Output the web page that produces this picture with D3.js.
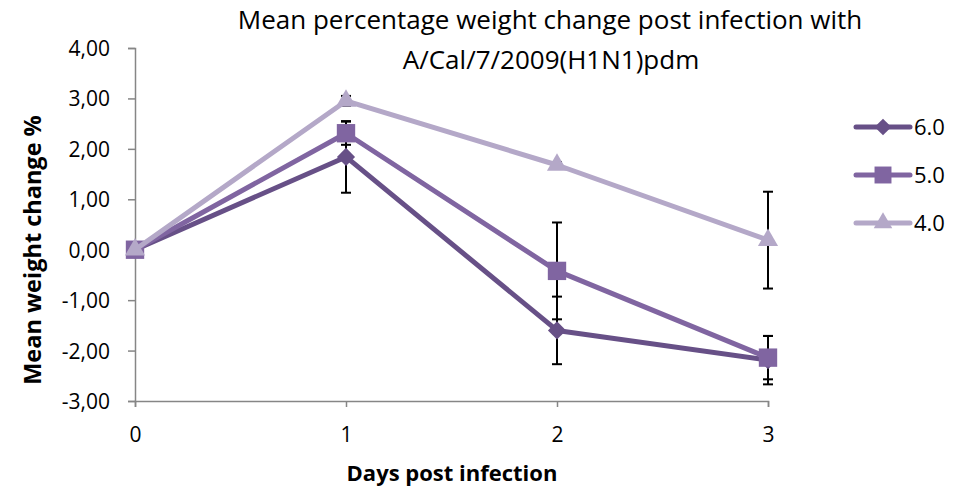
<!DOCTYPE html>
<html lang="en">
<head>
    <meta charset="UTF-8">
    <title>Mean percentage weight change</title>
    <style>
        body { margin: 0; background: #fff; }
        text { font-family: "Open Sans", "Liberation Sans", sans-serif; fill: #000; }
    </style>
    <script src="https://d3js.org/d3.v7.min.js"></script>
</head>
<body>
<svg class="chart" width="961" height="491"></svg>
<script>
    const days = [0, 1, 2, 3],
        seriesNames = ['6.0', '5.0', '4.0'],
        weight60 = [0, 1.84, -1.60, -2.19],
        weight50 = [0, 2.31, -0.42, -2.14],
        weight40 = [0, 2.95, 1.68, 0.19],
        err60 = [0, 0.71, 0.67, 0.48],
        err50 = [0, 0.23, 0.96, 0.43],
        err40 = [0, 0.10, 0.06, 0.96],
        yTicks = [4, 3, 2, 1, 0, -1, -2, -3];

    const colors = ['#675087', '#8065a1', '#b4a8c8'],
        shapes = [d3.symbolDiamond2, d3.symbolSquare2, d3.symbolTriangle2],
        sizes = [210, 430, 290];

    const series = seriesNames.map((name, i) => ({
        name: name,
        values: [weight60, weight50, weight40][i],
        errors: [err60, err50, err40][i],
        color: colors[i],
        shape: shapes[i]
    }));

    const margin = {left: 135, top: 48},
        width = 768 - 135,
        height = 401 - 48;

    const svg = d3.select('.chart');

    // 比例尺
    let x = d3.scaleLinear().domain([0, 3]).range([0, width]),
        y = d3.scaleLinear().domain([-3, 4]).range([height, 0]);

    let g = svg.append('g').attr('transform', 'translate(' + margin.left + ',' + margin.top + ')');

    // y轴
    let yAxis = g.append('g')
        .call(d3.axisLeft(y).tickValues(yTicks).tickSize(7).tickPadding(18)
            .tickFormat(d => d3.format('.2f')(d).replace('.', ',').replace('−', '-')));
    yAxis.selectAll('text').style('font-size', '21px').attr('dy', '0.36em');

    // x轴
    let xAxis = g.append('g')
        .attr('transform', 'translate(0,' + height + ')')
        .call(d3.axisBottom(x).tickValues(days).tickSize(6).tickPadding(20).tickFormat(d3.format('d')));
    xAxis.selectAll('text').style('font-size', '21px');

    svg.selectAll('.domain, .tick line').attr('stroke', '#868686').attr('stroke-width', 1.5);

    // 误差线
    series.forEach(s => {
        let eg = g.append('g').attr('stroke', '#000').attr('stroke-width', 2);
        days.forEach((d, i) => {
            if (!s.errors[i]) return;
            let cx = x(d), y1 = y(s.values[i] + s.errors[i]), y2 = y(s.values[i] - s.errors[i]);
            eg.append('line').attr('x1', cx).attr('x2', cx).attr('y1', y1).attr('y2', y2);
            eg.append('line').attr('x1', cx - 5).attr('x2', cx + 5).attr('y1', y1).attr('y2', y1);
            eg.append('line').attr('x1', cx - 5).attr('x2', cx + 5).attr('y1', y2).attr('y2', y2);
        });
    });

    const line = d3.line().x((d, i) => x(days[i])).y(d => y(d));

    // 折线和标记 (每个系列依次绘制)
    series.forEach((s, k) => {
        g.append('path').datum(s.values)
            .attr('fill', 'none')
            .attr('stroke', s.color)
            .attr('stroke-width', 5)
            .attr('stroke-linejoin', 'round')
            .attr('d', line);
        g.selectAll(null).data(s.values).enter().append('path')
            .attr('transform', (d, i) => 'translate(' + x(days[i]) + ',' + y(d) + ')')
            .attr('d', d3.symbol().type(s.shape).size(sizes[k]))
            .attr('fill', s.color);
    });

    // 图例
    let legend = svg.append('g').attr('transform', 'translate(856,127)');
    series.forEach((s, k) => {
        let lg = legend.append('g').attr('transform', 'translate(0,' + k * 48 + ')');
        lg.append('line').attr('x1', 0).attr('x2', 54).attr('stroke', s.color)
            .attr('stroke-width', 5).attr('stroke-linecap', 'round');
        lg.append('path').attr('transform', 'translate(27,0)')
            .attr('d', d3.symbol().type(s.shape).size(sizes[k] * 0.85)).attr('fill', s.color);
        lg.append('text').attr('x', 58).attr('dy', '0.36em').style('font-size', '22px').text(s.name);
    });

    // 标题
    let title = svg.append('text').attr('text-anchor', 'middle').style('font-size', '26px');
    title.append('tspan').attr('x', 550).attr('y', 29).text('Mean percentage weight change post infection with');
    title.append('tspan').attr('x', 551).attr('y', 69).text('A/Cal/7/2009(H1N1)pdm');

    svg.append('text').attr('text-anchor', 'middle').attr('x', 452).attr('y', 481)
        .style('font-size', '22px').style('font-weight', 'bold').text('Days post infection');

    svg.append('text').attr('text-anchor', 'middle')
        .attr('transform', 'translate(41,250) rotate(-90)')
        .style('font-size', '23.5px').style('font-weight', 'bold').text('Mean weight change %');
</script>
</body>
</html>
